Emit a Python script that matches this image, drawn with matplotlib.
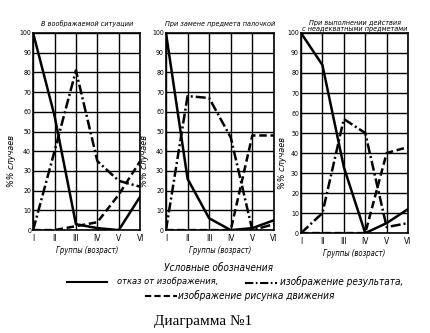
import matplotlib.pyplot as plt
from matplotlib.lines import Line2D

plt.rcParams['font.family'] = ['DejaVu Sans']
plt.rcParams['font.stretch'] = 'condensed'

groups = ['I', 'II', 'III', 'IV', 'V', 'VI']
titles = ['В воображаемой ситуации',
          'При замене предмета палочкой',
          'При выполнении действия\nс неадекватными предметами']

# отказ от изображения (сплошная)
refusal = [[100, 58, 3, 1, 0, 17],
           [100, 26, 6, 0, 1, 5],
           [100, 84, 33, 0, 5, 12]]
# изображение результата (штрих-пунктир)
result = [[0, 40, 81, 35, 25, 22],
          [0, 68, 67, 47, 0, 3],
          [0, 10, 57, 50, 3, 5]]
# изображение рисунка движения (штрих)
motion = [[0, 0, 2, 4, 18, 35],
          [0, 0, 0, 0, 48, 48],
          [0, 0, 0, 0, 40, 43]]

dashdot = (0, (4, 1.2, 0.8, 1.2))
dashed = (0, (3, 1.5))

fig = plt.figure(figsize=(4.3, 3.33), dpi=100)
positions = [[0.077, 0.309, 0.249, 0.592],
             [0.386, 0.309, 0.251, 0.592],
             [0.700, 0.300, 0.249, 0.601]]

x = list(range(len(groups)))
for i in range(3):
    ax = fig.add_axes(positions[i])
    ax.plot(x, refusal[i], color='black', lw=1.8, ls='-')
    ax.plot(x, result[i], color='black', lw=1.8, ls=dashdot)
    ax.plot(x, motion[i], color='black', lw=1.8, ls=dashed)
    ax.set_xlim(0, 5)
    ax.set_ylim(0, 100)
    ax.set_xticks(x)
    ax.set_xticklabels(groups, fontsize=6)
    ax.set_yticks(range(0, 101, 10))
    ax.tick_params(axis='y', labelsize=5, length=0, pad=1.5)
    ax.tick_params(axis='x', length=0, pad=3)
    ax.grid(True, color='black', lw=1.0)
    for s in ax.spines.values():
        s.set_linewidth(1.2)
    ax.set_title(titles[i], fontsize=5.2, style='italic', pad=5 if i < 2 else 1.5,
                 linespacing=0.95)
    ax.set_xlabel('Группы (возраст)', fontsize=5.5, style='italic', labelpad=2)
    ax.set_ylabel('%% случаев', fontsize=6.5, style='italic')
    ax.yaxis.set_label_coords(-0.16 if i < 2 else -0.13, 0.35)

fig.text(0.507, 0.195, 'Условные обозначения', ha='center', va='center',
         fontsize=7.2, style='italic')
# образцы линий в легенде
fig.add_artist(Line2D([0.156, 0.249], [0.153, 0.153], color='black', lw=1.5))
fig.text(0.272, 0.156, 'отказ от изображения,', va='center', fontsize=6.7, style='italic')
fig.add_artist(Line2D([0.57, 0.644], [0.151, 0.151], color='black', lw=1.5, ls=dashdot))
fig.text(0.651, 0.156, 'изображение результата,', va='center', fontsize=7.2, style='italic')
fig.add_artist(Line2D([0.337, 0.412], [0.11, 0.11], color='black', lw=1.5, ls=dashed))
fig.text(0.414, 0.114, 'изображение рисунка движения', va='center', fontsize=7.2,
         style='italic')
fig.text(0.472, 0.036, 'Диаграмма №1', ha='center', va='center', fontsize=11,
         family=['Liberation Serif', 'DejaVu Serif'], stretch='normal')

plt.savefig('out.png', dpi=100)
plt.close()
